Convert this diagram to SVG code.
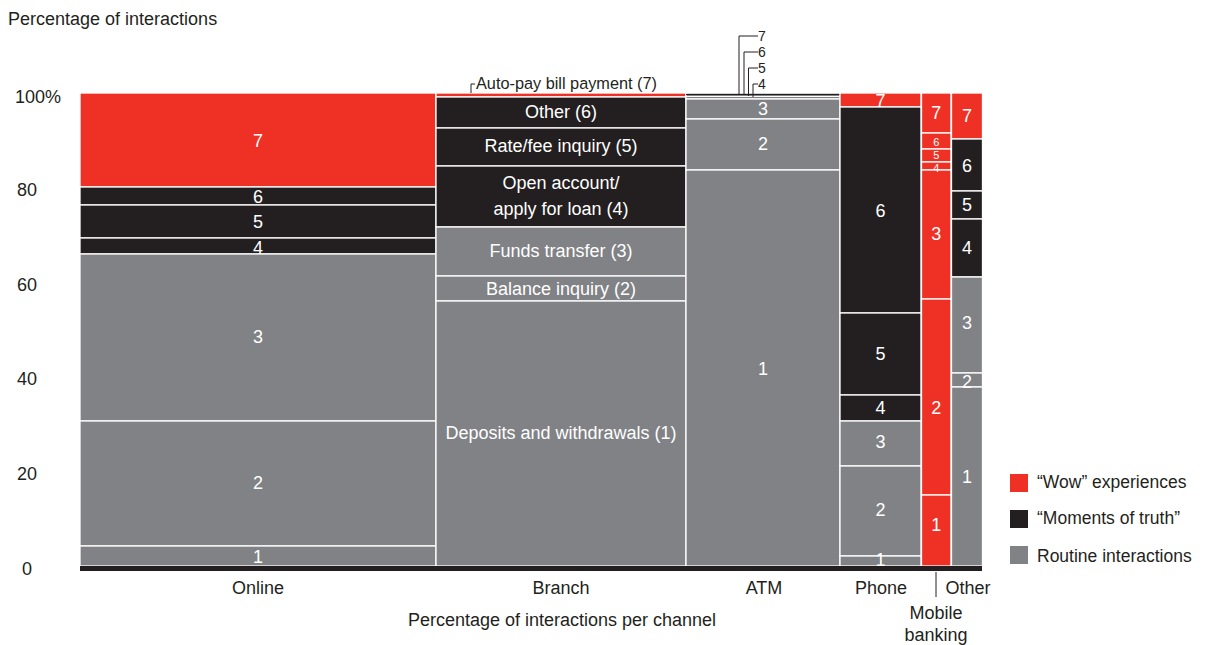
<svg xmlns="http://www.w3.org/2000/svg" width="1205" height="645" viewBox="0 0 1205 645">
<style>
text{font-family:"Liberation Sans",Arial,sans-serif;}
.r{fill:#ee3124;stroke:#fff;stroke-width:1.3}
.k{fill:#231f20;stroke:#fff;stroke-width:1.3}
.g{fill:#808285;stroke:#fff;stroke-width:1.3}
.sl{fill:#fff;font-size:18px;text-anchor:middle}
.ss{fill:#fff;font-size:11px;text-anchor:middle}
.ax{fill:#231f20;font-size:18px}
.lg{fill:#231f20;font-size:17.5px}
.axm{fill:#231f20;font-size:18px;text-anchor:middle}
.ld{fill:none;stroke:#231f20;stroke-width:1}
.sm{fill:#231f20;font-size:16.3px}
.at{fill:#231f20;font-size:14px}
</style>
<text class="ax" x="8" y="25">Percentage of interactions</text>
<g id="yaxis">
<text class="ax" x="15" y="103">100%</text>
<text class="ax" x="17" y="196">80</text>
<text class="ax" x="17" y="291">60</text>
<text class="ax" x="17" y="385">40</text>
<text class="ax" x="17" y="480">20</text>
<text class="ax" x="22" y="575">0</text>
</g>
<g id="online">
<rect class="r" x="80" y="93" width="356" height="94"/>
<rect class="k" x="80" y="187" width="356" height="18"/>
<rect class="k" x="80" y="205" width="356" height="33"/>
<rect class="k" x="80" y="238" width="356" height="16"/>
<rect class="g" x="80" y="254" width="356" height="167"/>
<rect class="g" x="80" y="421" width="356" height="125"/>
<rect class="g" x="80" y="546" width="356" height="20"/>
<text class="sl" x="258" y="147">7</text>
<text class="sl" x="258" y="203">6</text>
<text class="sl" x="258" y="228">5</text>
<text class="sl" x="258" y="254">4</text>
<text class="sl" x="258" y="343">3</text>
<text class="sl" x="258" y="489">2</text>
<text class="sl" x="258" y="563">1</text>
</g>
<g id="branch">
<rect class="r" x="436" y="93" width="250" height="4"/>
<rect class="k" x="436" y="97" width="250" height="31"/>
<rect class="k" x="436" y="128" width="250" height="38"/>
<rect class="k" x="436" y="166" width="250" height="61"/>
<rect class="g" x="436" y="227" width="250" height="49"/>
<rect class="g" x="436" y="276" width="250" height="25"/>
<rect class="g" x="436" y="301" width="250" height="265"/>
<text class="sl" x="561" y="118">Other (6)</text>
<text class="sl" x="561" y="152">Rate/fee inquiry (5)</text>
<text class="sl" x="561" y="189">Open account/</text>
<text class="sl" x="561" y="215">apply for loan (4)</text>
<text class="sl" x="561" y="257">Funds transfer (3)</text>
<text class="sl" x="561" y="295">Balance inquiry (2)</text>
<text class="sl" x="561" y="439">Deposits and withdrawals (1)</text>
<text class="sm" x="476" y="89">Auto-pay bill payment (7)</text>
</g>
<g id="atm">
<rect class="g" x="686" y="93" width="154" height="6"/>
<line x1="686" y1="94.5" x2="840" y2="94.5" stroke="#231f20" stroke-width="1"/>
<line x1="686" y1="96.5" x2="840" y2="96.5" stroke="#fff" stroke-width="1"/>
<rect class="g" x="686" y="99" width="154" height="20"/>
<rect class="g" x="686" y="119" width="154" height="51"/>
<rect class="g" x="686" y="170" width="154" height="396"/>
<text class="sl" x="763" y="115">3</text>
<text class="sl" x="763" y="150">2</text>
<text class="sl" x="763" y="375">1</text>
</g>
<g id="phone">
<rect class="r" x="840" y="93" width="81" height="14"/>
<rect class="k" x="840" y="107" width="81" height="206"/>
<rect class="k" x="840" y="313" width="81" height="82"/>
<rect class="k" x="840" y="395" width="81" height="26"/>
<rect class="g" x="840" y="421" width="81" height="45"/>
<rect class="g" x="840" y="466" width="81" height="90"/>
<rect class="g" x="840" y="556" width="81" height="10"/>
<text class="sl" x="880.5" y="107">7</text>
<text class="sl" x="880.5" y="217">6</text>
<text class="sl" x="880.5" y="360">5</text>
<text class="sl" x="880.5" y="414">4</text>
<text class="sl" x="880.5" y="448">3</text>
<text class="sl" x="880.5" y="516">2</text>
<text class="sl" x="880.5" y="566">1</text>
</g>
<g id="mobile">
<rect class="r" x="921.5" y="93" width="29.5" height="40"/>
<rect class="r" x="921.5" y="133" width="29.5" height="16"/>
<rect class="r" x="921.5" y="149" width="29.5" height="13"/>
<rect class="r" x="921.5" y="162" width="29.5" height="8"/>
<rect class="r" x="921.5" y="170" width="29.5" height="129"/>
<rect class="r" x="921.5" y="299" width="29.5" height="196"/>
<rect class="r" x="921.5" y="495" width="29.5" height="71"/>
<text class="sl" x="936.3" y="119">7</text>
<text class="ss" x="936.3" y="146">6</text>
<text class="ss" x="936.3" y="159">5</text>
<text class="ss" x="936.3" y="172">4</text>
<text class="sl" x="936.3" y="240">3</text>
<text class="sl" x="936.3" y="414">2</text>
<text class="sl" x="936.3" y="531">1</text>
</g>
<g id="other">
<rect class="r" x="951.5" y="93" width="31" height="46"/>
<rect class="k" x="951.5" y="139" width="31" height="52"/>
<rect class="k" x="951.5" y="191" width="31" height="28"/>
<rect class="k" x="951.5" y="219" width="31" height="58"/>
<rect class="g" x="951.5" y="277" width="31" height="96"/>
<rect class="g" x="951.5" y="373" width="31" height="14"/>
<rect class="g" x="951.5" y="387" width="31" height="179"/>
<text class="sl" x="967" y="122">7</text>
<text class="sl" x="967" y="172">6</text>
<text class="sl" x="967" y="211">5</text>
<text class="sl" x="967" y="254">4</text>
<text class="sl" x="967" y="329">3</text>
<text class="sl" x="967" y="388">2</text>
<text class="sl" x="967" y="483">1</text>
</g>
<g id="connectors">
<polyline class="ld" points="471,93 471,84 475,84"/>
<polyline class="ld" points="739,94 739,36 758,36"/>
<polyline class="ld" points="744,95 744,52 758,52"/>
<polyline class="ld" points="748.5,96 748.5,68 758,68"/>
<polyline class="ld" points="753,97 753,84 758,84"/>
<line x1="936" y1="572" x2="936" y2="597" stroke="#231f20" stroke-width="1"/>
</g>
<g id="atm-labels">
<text class="at" x="758" y="41">7</text>
<text class="at" x="758" y="57">6</text>
<text class="at" x="758" y="73">5</text>
<text class="at" x="758" y="89">4</text>
</g>
<rect id="baseline" x="80" y="566" width="902" height="5" fill="#231f20"/>
<g id="xaxis">
<text class="axm" x="258" y="594">Online</text>
<text class="axm" x="561" y="594">Branch</text>
<text class="axm" x="764" y="594">ATM</text>
<text class="axm" x="881" y="594">Phone</text>
<text class="axm" x="968" y="594">Other</text>
<text class="axm" x="936" y="619">Mobile</text>
<text class="axm" x="936" y="641">banking</text>
<text class="axm" x="562" y="626">Percentage of interactions per channel</text>
</g>
<g id="legend">
<rect x="1010" y="474" width="18" height="18" fill="#ee3124"/>
<rect x="1010" y="510" width="18" height="18" fill="#231f20"/>
<rect x="1010" y="546" width="18" height="18" fill="#808285"/>
<text class="lg" x="1037" y="488">“Wow” experiences</text>
<text class="lg" x="1037" y="524">“Moments of truth”</text>
<text class="lg" x="1037" y="562">Routine interactions</text>
</g>
</svg>
